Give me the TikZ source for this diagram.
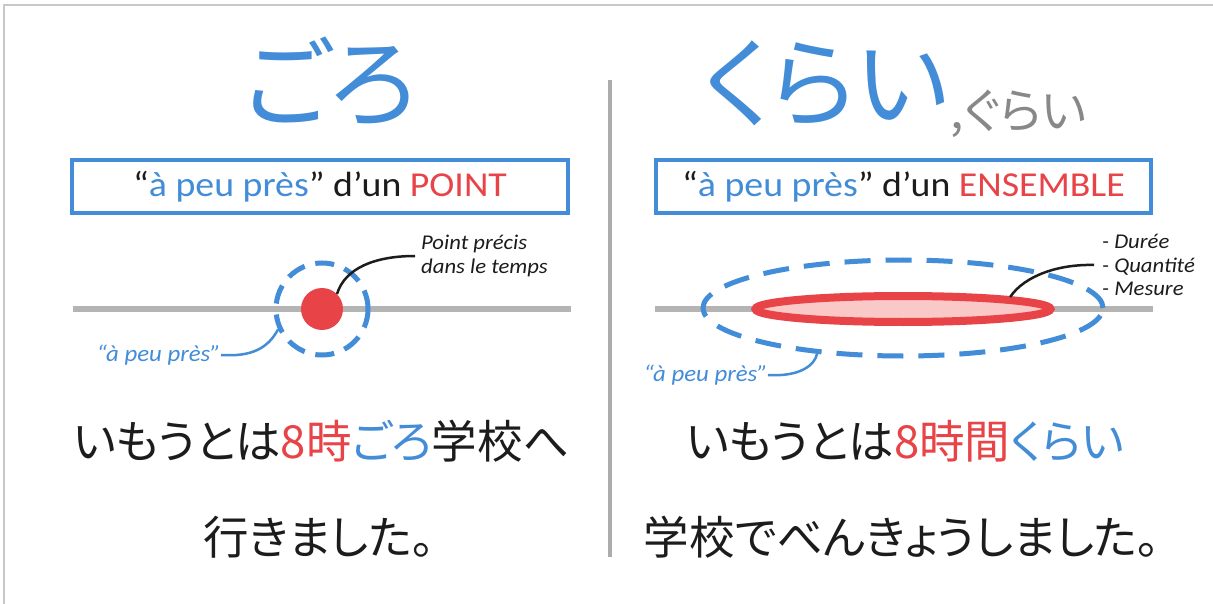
\documentclass[tikz,border=0pt]{standalone}
\usepackage{fontspec}
\setmainfont[FakeStretch=1.08]{Carlito}
\newfontfamily\jp[RawFeature={+palt}]{Noto Sans CJK JP}
\usetikzlibrary{shapes.geometric}
\definecolor{jblue}{RGB}{66,140,216}
\definecolor{jred}{RGB}{232,68,72}
\definecolor{jpink}{RGB}{251,200,200}
\definecolor{lgray}{RGB}{180,180,180}
\definecolor{tgray}{RGB}{136,136,136}
\definecolor{ink}{RGB}{28,28,28}
\definecolor{frame}{RGB}{200,200,200}
\tikzset{
  timeline/.style={draw=lgray, line width=6},
  titlebox/.style={draw=jblue, line width=4, rectangle, inner sep=0, minimum height=53},
  boxtext/.style={font=\fontsize{35}{38}\selectfont, text=ink},
  note/.style={font=\fontsize{21}{23.5}\selectfont\itshape, text=ink, align=left, inner sep=0},
  bluenote/.style={font=\fontsize{23}{25}\selectfont\itshape, text=jblue, inner sep=0},
  leader/.style={draw=ink, line width=2.5},
  bleader/.style={draw=jblue, line width=2.5},
  halo/.style={draw=jblue, line width=5},
  bigjp/.style={font=\jp\fontsize{98}{98}\selectfont, text=jblue, inner sep=0},
  sent/.style={font=\jp\fontsize{45.5}{45.5}\selectfont, text=ink, inner sep=0},
}
\begin{document}
\begin{tikzpicture}[x=1pt,y=-1pt]
\useasboundingbox (0,0) rectangle (1213,604);
\fill[white] (0,0) rectangle (1213,604);
% frame
\draw[frame, line width=1.5] (4,604) -- (4,5) -- (1213,5);
% divider
\draw[lgray!85!gray, line width=4] (610,80) -- (610,557);

% ---------- left ----------
\node[bigjp, anchor=base] (goro) at (330,120) {ごろ};
\node[titlebox, minimum width=496] (boxL) at (320,186.5) {};
\node[boxtext] (boxLt) at (boxL.center) {“\textcolor{jblue}{à peu près}” d’un \textcolor{jred}{POINT}};
\draw[timeline] (73,309) -- (571,309);
\node[circle, fill=jred, minimum size=42, inner sep=0] (dot) at (322,309) {};
\node[circle, halo, dash pattern=on 19pt off 11pt, minimum size=92, inner sep=0] (haloL) at (322,309) {};
\node[note, anchor=west] (precis) at (421,256) {Point précis\\dans le temps};
\draw[leader] (dot.north east) .. controls (345,268) and (375,256) .. ([xshift=-6pt]precis.west);
\node[bluenote, anchor=east] (apL) at (221,355) {“à peu près”};
\draw[bleader] (apL.east) .. controls (252,357) and (268,348) .. (haloL.205);
\node[sent, anchor=base] (sL1) at (321,458) {いもうとは\textcolor{jred}{8時}\textcolor{jblue}{ごろ}学校へ};
\node[sent, anchor=base] (sL2) at (319,554) {行きました。};

% ---------- right ----------
\node[bigjp, anchor=base west] (kurai) at (704,120) {くらい};
\node[font=\jp\fontsize{48}{48}\selectfont, text=tgray, inner sep=0, anchor=base west] (gurai) at (950,129) {,ぐらい};
\node[titlebox, minimum width=495] (boxR) at (903.5,186.5) {};
\node[boxtext] (boxRt) at (boxR.center) {“\textcolor{jblue}{à peu près}” d’un \textcolor{jred}{ENSEMBLE}};
\draw[timeline] (655,309) -- (1153,309);
\node[ellipse, draw=jred, line width=8, fill=jpink, minimum width=295, minimum height=26, inner sep=0] (setR) at (903,309) {};
\node[ellipse, halo, dash pattern=on 26pt off 15pt, minimum width=400, minimum height=96, inner sep=0] (haloR) at (903,308) {};
\node[note, anchor=west] (list) at (1102,265) {- Durée\\- Quantité\\- Mesure};
\draw[leader] (setR.north east) .. controls (1025,275) and (1060,264) .. ([xshift=-8pt]list.west);
\node[bluenote, anchor=east] (apR) at (768,375) {“à peu près”};
\draw[bleader] (apR.east) .. controls (800,377) and (815,365) .. (haloR.208);
\node[sent, anchor=base] (sR1) at (905,458) {いもうとは\textcolor{jred}{8時間}\textcolor{jblue}{くらい}};
\node[sent, anchor=base] (sR2) at (902,554) {学校でべんきょうしました。};
\end{tikzpicture}
\end{document}
